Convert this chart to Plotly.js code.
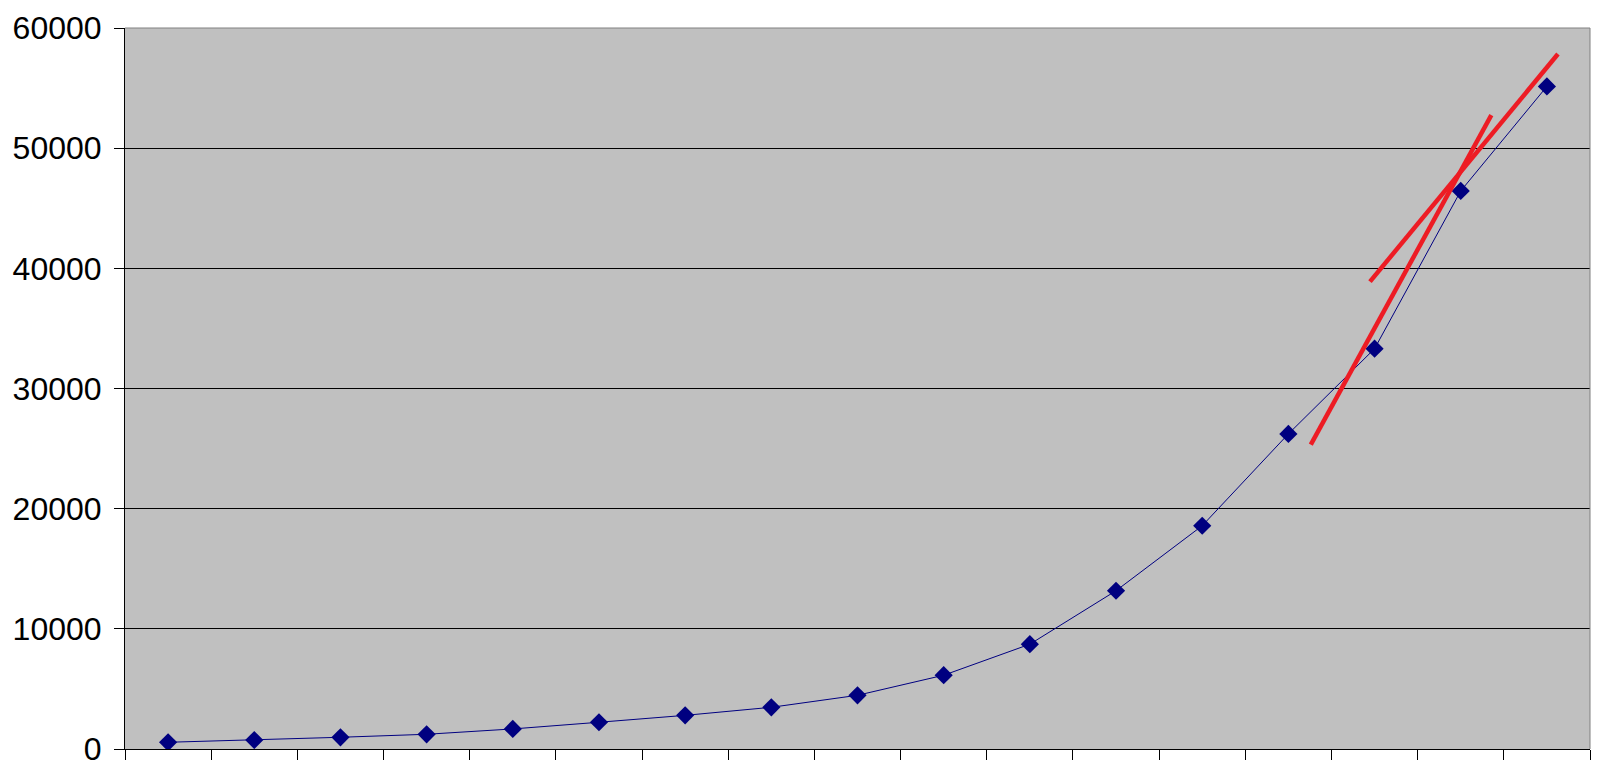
<!DOCTYPE html>
<html>
<head>
<meta charset="utf-8">
<script src="https://cdn.plot.ly/plotly-3.0.1.min.js"></script>
<style>
html,body{margin:0;padding:0;background:#fff;}
#chart{width:1605px;height:770px;}
</style>
</head>
<body>
<div id="chart"></div>
<script>
// Category positions (one per point)
const categories = [0, 1, 2, 3, 4, 5, 6, 7, 8, 9, 10, 11, 12, 13, 14, 15, 16];
// Series values
const values = [560, 750, 975, 1225, 1670, 2225, 2800, 3470, 4470, 6140, 8720, 13170, 18580, 26220, 33310, 46440, 55140];
// Hand-drawn red tangent lines (endpoints in category / value units)
const tangentA_x = [13.26, 15.355];
const tangentA_y = [25333, 52750];
const tangentB_x = [13.947, 16.128];
const tangentB_y = [38892, 57833];
// Axis ticks
const yTickVals = [0, 10000, 20000, 30000, 40000, 50000, 60000];
const yTickText = ['0', '10000', '20000', '30000', '40000', '50000', '60000'];
const xTickVals = [-0.5, 0.5, 1.5, 2.5, 3.5, 4.5, 5.5, 6.5, 7.5, 8.5, 9.5, 10.5, 11.5, 12.5, 13.5, 14.5, 15.5, 16.5];

const traces = [
  {
    x: categories, y: values, type: 'scatter', mode: 'lines+markers',
    line: {color: '#000080', width: 1},
    marker: {symbol: 'diamond', size: 14, color: '#000080'},
    hoverinfo: 'skip'
  },
  {
    x: tangentA_x, y: tangentA_y, type: 'scatter', mode: 'lines',
    line: {color: '#ED1C24', width: 4.5}, hoverinfo: 'skip'
  },
  {
    x: tangentB_x, y: tangentB_y, type: 'scatter', mode: 'lines',
    line: {color: '#ED1C24', width: 4.5}, hoverinfo: 'skip'
  }
];

const layout = {
  width: 1605, height: 770,
  margin: {l: 125, r: 15, t: 28, b: 21, pad: 0},
  paper_bgcolor: '#ffffff',
  plot_bgcolor: '#C0C0C0',
  showlegend: false,
  font: {family: 'Liberation Sans, Arial, sans-serif', color: '#000000'},
  xaxis: {
    range: [-0.5, 16.5],
    tickmode: 'array', tickvals: xTickVals,
    showticklabels: false,
    ticks: 'outside', ticklen: 10, tickwidth: 1, tickcolor: '#000000',
    showgrid: false, zeroline: false,
    showline: true, linecolor: '#000000', linewidth: 1
  },
  yaxis: {
    range: [0, 60000],
    tickmode: 'array', tickvals: yTickVals, ticktext: yTickText,
    ticks: 'outside', ticklen: 10, tickwidth: 1, tickcolor: '#000000',
    tickfont: {size: 32, family: 'Liberation Sans, Arial, sans-serif', color: '#000000'},
    ticklabelstandoff: 6,
    showgrid: true, gridcolor: '#000000', gridwidth: 1,
    zeroline: false,
    showline: true, linecolor: '#000000', linewidth: 1
  },
  shapes: [
    {type: 'line', xref: 'paper', yref: 'paper', x0: 0, x1: 1, y0: 1, y1: 1,
     line: {color: '#808080', width: 1}},
    {type: 'line', xref: 'paper', yref: 'paper', x0: 1, x1: 1, y0: 0, y1: 1,
     line: {color: '#808080', width: 1}}
  ]
};

Plotly.newPlot('chart', traces, layout, {displayModeBar: false, staticPlot: true});
</script>
</body>
</html>
